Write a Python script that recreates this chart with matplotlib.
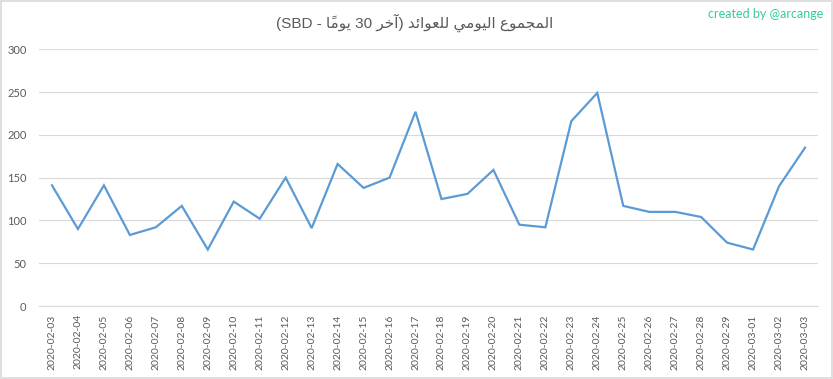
import numpy as np
import matplotlib
matplotlib.use("Agg")
import matplotlib.pyplot as plt
from matplotlib.patches import Rectangle

dates = ["2020-02-03", "2020-02-04", "2020-02-05", "2020-02-06", "2020-02-07",
         "2020-02-08", "2020-02-09", "2020-02-10", "2020-02-11", "2020-02-12",
         "2020-02-13", "2020-02-14", "2020-02-15", "2020-02-16", "2020-02-17",
         "2020-02-18", "2020-02-19", "2020-02-20", "2020-02-21", "2020-02-22",
         "2020-02-23", "2020-02-24", "2020-02-25", "2020-02-26", "2020-02-27",
         "2020-02-28", "2020-02-29", "2020-03-01", "2020-03-02", "2020-03-03"]
totals = [141, 90, 141, 83, 92, 117, 66, 122, 102, 150,
          91, 166, 138, 150, 227, 125, 131, 159, 95, 92,
          216, 249, 117, 110, 110, 104, 74, 66, 140, 185]
yticks = [0, 50, 100, 150, 200, 250, 300]

# title already shaped (presentation forms) and in visual order, since
# matplotlib does no bidi / arabic shaping itself
title = ("(SBD - " + "\uFE8E\u064B\uFEE3\uFEEE\uFEF3" + " 30 "
         + "\uFEAE\uFEA7\uFE81" + ") "
         + "\uFEAA\uFE8B\uFE8D\uFEEE\uFECC\uFEE0\uFEDF" + " "
         + "\uFEF2\uFEE3\uFEEE\uFEF4\uFEDF\uFE8D" + " "
         + "\uFEC9\uFEEE\uFEE4\uFEA0\uFEE4\uFEDF\uFE8D")
credit = "created by @arcange"

grey_txt = "#595959"
grid_col = "#d9d9d9"

fig = plt.figure(figsize=(8.33, 3.79), dpi=100)
ax = fig.add_axes([0.0468, 0.1926, 0.982 - 0.0468, 0.87 - 0.1926])

x = np.arange(len(dates))
ax.plot(x, totals, color="#5b9bd5", linewidth=1.6, solid_joinstyle="miter")

ax.set_xlim(-0.5, len(dates) - 0.5)
ax.set_ylim(0, 300)
ax.set_yticks(yticks)
ax.set_xticks(x)
ax.set_xticklabels(dates, rotation=90, family="Lato", fontsize=7.5, color=grey_txt)
ax.set_yticklabels([str(v) for v in yticks], family="Lato", fontsize=8, color=grey_txt)
ax.tick_params(axis="both", length=0)
ax.tick_params(axis="x", pad=6)
ax.tick_params(axis="y", pad=9)
ax.grid(axis="y", color=grid_col, linewidth=0.8)
ax.set_axisbelow(True)
for side in ["top", "right", "left"]:
    ax.spines[side].set_visible(False)
ax.spines["bottom"].set_color(grid_col)
ax.spines["bottom"].set_linewidth(0.8)

fig.text(0.498, 0.94, title, ha="center", va="center", fontsize=11,
         color=grey_txt, family=["Liberation Sans", "DejaVu Sans"])
fig.text(0.988, 0.963, credit, ha="right", va="center", fontsize=9,
         color="#33cc99", family="Lato")

fig.patches.append(Rectangle((0.0015, 0.002), 0.997, 0.995, transform=fig.transFigure,
                             fill=False, edgecolor=grid_col, linewidth=1.2))

fig.savefig("out.png", dpi=100)
